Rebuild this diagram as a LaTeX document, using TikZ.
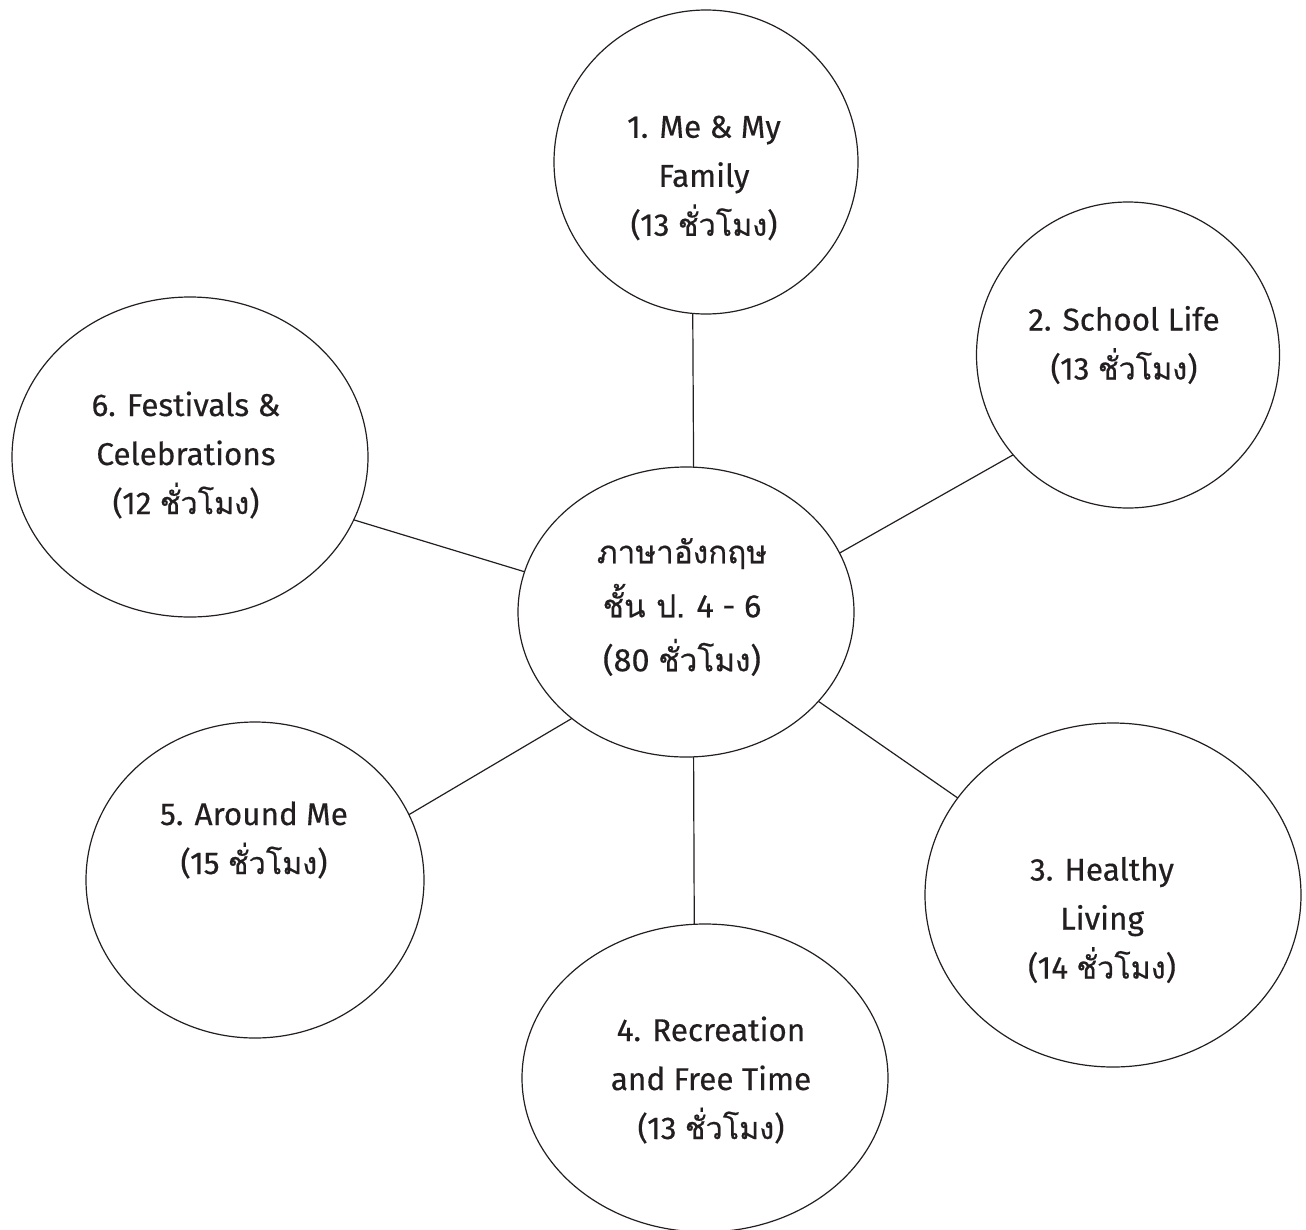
\documentclass[tikz,border=0pt]{standalone}
\usepackage{fontspec}
\usetikzlibrary{shapes.geometric}
\setmainfont{Fira Sans}[FakeBold=0.4]
\newfontfamily\thaitxt[Script=Thai,Scale=0.97,FakeBold=0.5]{Loma}
\definecolor{ink}{HTML}{231F20}
\begin{document}
\begin{tikzpicture}[x=1pt,y=-1pt,
  bubble/.style={ellipse,draw=ink,line width=1.2pt,inner sep=0pt,outer sep=0pt},
  label/.style={align=center,text=ink,font=\fontsize{31.5}{49}\selectfont},
  biglabel/.style={align=center,text=ink,font=\fontsize{32.5}{54}\selectfont},
  link/.style={draw=ink,line width=1.2pt}]
\useasboundingbox (0,0) rectangle (1306,1229);
\node[bubble,minimum width=336pt,minimum height=290pt] (c) at (686,612) {};
\node[bubble,minimum width=304pt,minimum height=304pt] (n1) at (706,162) {};
\node[bubble,minimum width=303pt,minimum height=306pt] (n2) at (1128,355) {};
\node[bubble,minimum width=376pt,minimum height=344pt] (n3) at (1113,895) {};
\node[bubble,minimum width=366pt,minimum height=308pt] (n4) at (705,1078) {};
\node[bubble,minimum width=338pt,minimum height=316pt] (n5) at (255,880) {};
\node[bubble,minimum width=356pt,minimum height=320pt] (n6) at (190,457) {};
\node[biglabel] (tc) at (682,607) {{\thaitxt ภาษาอังกฤษ}\\{\thaitxt ชั้น ป.} 4 - 6\\(80 {\thaitxt ชั่วโมง})};
\node[label] (t1) at (704,178) {1. Me \& My\\Family\\(13 {\thaitxt ชั่วโมง})};
\node[label] (t2) at (1124,345) {2. School Life\\(13 {\thaitxt ชั่วโมง})};
\node[label] (t3) at (1102,920) {3. Healthy\\Living\\(14 {\thaitxt ชั่วโมง})};
\node[label] (t4) at (711,1080) {4. Recreation\\and Free Time\\(13 {\thaitxt ชั่วโมง})};
\node[label] (t5) at (254,840) {5. Around Me\\(15 {\thaitxt ชั่วโมง})};
\node[label] (t6) at (186,455) {6. Festivals \&\\Celebrations\\(12 {\thaitxt ชั่วโมง})};
\path[link] (c.87.2) -- (n1.265.1);
\path[link] (c.21.6) -- (n2.221.85);
\path[link] (c.-34.8) -- (n3.148.3);
\path[link] (c.-87.2) -- (n4.94.5);
\path[link] (c.223.97) -- (n5.23.06);
\path[link] (c.166.85) -- (n6.-21.13);
\end{tikzpicture}
\end{document}
